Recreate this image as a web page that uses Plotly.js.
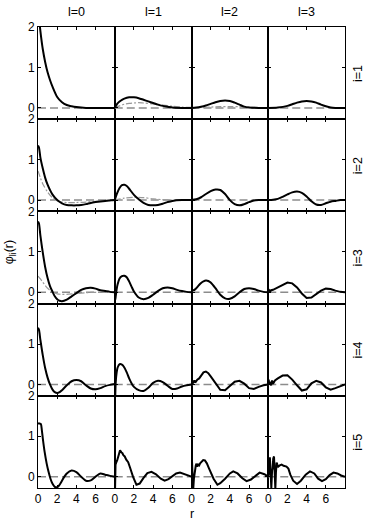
<!DOCTYPE html>
<html>
<head>
<meta charset="utf-8">
<script src="https://cdn.plot.ly/plotly-3.0.1.min.js"></script>
<style>html,body{margin:0;padding:0;background:#fff;}#chart{width:372px;height:522px;}</style>
</head>
<body>
<div id="chart"></div>
<script>
// ---- labels ----
const colLabels = ["l=0", "l=1", "l=2", "l=3"];
const rowLabels = ["i=1", "i=2", "i=3", "i=4", "i=5"];
const xTickVals = [0, 2, 4, 6];
const yTickVals = [0, 1, 2];

// ---- baseline (gray dashed) ----
const base_r = [0, 8];
const base_phi = [0, 0];

// ---- i=1 ----
const r_i1_l0 = [0,0.1,0.25,0.5,0.75,1,1.25,1.5,2,2.5,3,3.5,4,5,6,7,8];
const phi_i1_l0 = [2.6,2.25,1.9,1.45,1.13,0.88,0.69,0.53,0.27,0.14,0.07,0.04,0.02,0,0,0,0];
const r_i1_l1 = [0,0.25,0.5,0.75,1,1.5,2,2.5,3,3.5,4,4.5,5,5.5,6,7,8];
const phi_i1_l1 = [0,0.1,0.16,0.2,0.23,0.26,0.26,0.24,0.2,0.16,0.12,0.08,0.05,0.03,0.01,0,0];
const r_i1_l1_g = [0,0.5,1,1.5,2,2.5,3,4,5,6,7,8];
const phi_i1_l1_g = [0,0.05,0.09,0.11,0.12,0.13,0.12,0.1,0.07,0.04,0.02,0.01];
const r_i1_l2 = [0,0.5,1,1.5,2,2.5,3,3.5,4,4.5,5,5.5,6,7,8];
const phi_i1_l2 = [0,0.01,0.03,0.06,0.1,0.14,0.17,0.18,0.17,0.13,0.08,0.03,0.01,0,0];
const r_i1_l2_g = [0,1,2,3,4,5,6,7,8];
const phi_i1_l2_g = [0,0.01,0.02,0.03,0.03,0.03,0.02,0.01,0];
const r_i1_l3 = [0,1,2,2.5,3,3.5,4,4.5,5,5.5,6,6.5,7,8];
const phi_i1_l3 = [0,0.01,0.05,0.09,0.13,0.16,0.17,0.16,0.13,0.08,0.04,0.01,0,0];

// ---- i=2 ----
const r_i2_l0 = [0,0.1,0.25,0.5,0.75,1,1.25,1.5,2,2.5,3,3.5,4,4.5,5,5.5,6,7,8];
const phi_i2_l0 = [1.35,1.3,1.05,0.78,0.55,0.38,0.25,0.14,0.0,-0.08,-0.12,-0.13,-0.13,-0.12,-0.1,-0.07,-0.05,-0.02,0];
const r_i2_l0_g = [0,0.25,0.5,1,1.5,2,2.5,3,4,5,6,7,8];
const phi_i2_l0_g = [0.72,0.55,0.4,0.2,0.06,-0.02,-0.05,-0.06,-0.06,-0.05,-0.03,-0.02,-0.01];
const r_i2_l1 = [0,0.25,0.5,0.75,1,1.25,1.5,2,2.5,3,3.5,4,4.5,5,5.5,6,7,8];
const phi_i2_l1 = [0,0.17,0.3,0.37,0.38,0.35,0.28,0.13,0.02,-0.07,-0.12,-0.13,-0.12,-0.09,-0.05,-0.02,0,0];
const r_i2_l1_g = [0,1,2,3,4,5,6,8];
const phi_i2_l1_g = [0,0.05,0.07,0.06,0.03,0.01,0,0];
const r_i2_l2 = [0,0.5,1,1.5,2,2.5,3,3.5,4,4.5,5,5.5,6,6.5,7,8];
const phi_i2_l2 = [0,0.02,0.07,0.15,0.22,0.26,0.25,0.15,0.0,-0.1,-0.13,-0.1,-0.05,-0.01,0,0];
const r_i2_l3 = [0,0.5,1,1.5,2,2.5,3,3.5,4,4.5,5,5.5,6,6.5,7,7.5,8];
const phi_i2_l3 = [0,0.01,0.03,0.08,0.14,0.19,0.21,0.18,0.09,-0.03,-0.11,-0.12,-0.08,-0.04,-0.02,0,0];

// ---- i=3 ----
const r_i3_l0 = [0,0.1,0.25,0.5,0.75,1,1.25,1.5,1.75,2,2.25,2.5,3,3.5,4,4.5,5,5.5,6,6.5,7,7.5,8];
const phi_i3_l0 = [1.75,1.7,1.4,0.98,0.62,0.35,0.15,0.02,-0.1,-0.17,-0.21,-0.22,-0.18,-0.1,-0.02,0.06,0.1,0.11,0.09,0.05,0.03,0.01,0];
const r_i3_l0_g = [0,0.25,0.5,0.75,1,1.25,1.5,2,2.5,3,4,5,6,8];
const phi_i3_l0_g = [0.4,0.33,0.25,0.17,0.1,0.05,0.01,-0.04,-0.05,-0.05,-0.03,-0.01,0,0];
const r_i3_l1 = [0,0.05,0.1,0.2,0.3,0.5,0.75,1,1.25,1.5,1.75,2,2.5,3,3.5,4,4.5,5,5.5,6,6.5,7,7.5,8];
const phi_i3_l1 = [-0.05,-0.2,-0.1,0.08,0.2,0.34,0.4,0.41,0.37,0.27,0.14,0.02,-0.13,-0.17,-0.14,-0.06,0.03,0.1,0.12,0.1,0.06,0.03,0.01,0];
const r_i3_l2 = [0,0.1,0.25,0.5,0.75,1,1.25,1.5,1.75,2,2.5,3,3.5,4,4.5,5,5.5,6,6.5,7,7.5,8];
const phi_i3_l2 = [0,0.06,0.05,0.1,0.17,0.23,0.27,0.29,0.28,0.24,0.1,-0.06,-0.15,-0.16,-0.1,0.0,0.08,0.1,0.08,0.04,0.01,0];
const r_i3_l3 = [0,0.1,0.2,0.3,0.5,1,1.5,2,2.5,3,3.5,4,4.5,5,5.5,6,6.5,7,7.5,8];
const phi_i3_l3 = [0,0.05,0.02,0.05,0.06,0.12,0.2,0.24,0.22,0.12,-0.03,-0.14,-0.13,-0.05,0.04,0.09,0.08,0.04,0.01,0];

// ---- i=4 ----
const r_i4_l0 = [0,0.1,0.25,0.5,0.75,1,1.25,1.5,1.75,2,2.25,2.5,3,3.5,4,4.5,5,5.5,6,6.5,7,7.5,8];
const phi_i4_l0 = [1.4,1.35,1.1,0.72,0.4,0.17,0.0,-0.12,-0.19,-0.21,-0.19,-0.14,-0.02,0.08,0.11,0.08,-0.02,-0.1,-0.12,-0.09,-0.04,-0.01,0.01];
const r_i4_l1 = [0,0.05,0.1,0.2,0.3,0.5,0.75,1,1.25,1.5,1.75,2,2.5,3,3.5,4,4.5,5,5.5,6,6.5,7,7.5,8];
const phi_i4_l1 = [-0.7,-0.3,0.05,0.3,0.42,0.5,0.49,0.42,0.3,0.15,0.03,-0.06,-0.14,-0.16,-0.08,0.04,0.09,0.06,-0.03,-0.11,-0.1,-0.05,-0.02,0];
const r_i4_l2 = [0,0.05,0.1,0.2,0.3,0.4,0.6,0.8,1,1.25,1.5,1.75,2,2.5,3,3.5,4,4.5,5,5.5,6,6.5,7,7.5,8];
const phi_i4_l2 = [0,0.12,0.02,0.05,0.1,0.05,0.12,0.15,0.22,0.3,0.32,0.28,0.2,0.03,-0.13,-0.14,-0.04,0.07,0.09,0.02,-0.09,-0.11,-0.06,-0.02,0];
const r_i4_l3 = [0,0.05,0.1,0.2,0.3,0.4,0.5,0.7,1,1.5,2,2.5,3,3.5,4,4.5,5,5.5,6,6.5,7,7.5,8];
const phi_i4_l3 = [0,0.12,0.0,0.03,-0.02,0.1,0.02,0.1,0.15,0.22,0.23,0.12,-0.02,-0.15,-0.12,0.03,0.09,0.05,-0.07,-0.13,-0.09,-0.04,0];

// ---- i=5 ----
const r_i5_l0 = [0,0.1,0.2,0.3,0.4,0.5,0.7,0.9,1.1,1.3,1.5,1.75,2,2.25,2.5,2.75,3,3.5,4,4.5,5,5.5,6,6.5,7,7.5,8];
const phi_i5_l0 = [1.3,1.32,1.31,1.3,1.15,0.95,0.6,0.33,0.12,-0.05,-0.17,-0.25,-0.26,-0.2,-0.1,0.0,0.08,0.15,0.11,0.0,-0.1,-0.09,0.0,0.08,0.05,0.02,0];
const r_i5_l1 = [0,0.03,0.08,0.12,0.17,0.25,0.35,0.45,0.55,0.7,0.8,0.9,1.04,1.2,1.4,1.6,1.9,2.26,2.6,3,3.4,3.83,4.3,4.8,5.2,5.6,6,6.4,6.8,7.2,7.6,8];
const phi_i5_l1 = [0,-0.35,0.3,0.35,0.36,0.4,0.5,0.62,0.65,0.6,0.58,0.53,0.5,0.42,0.36,0.22,0.0,-0.2,-0.17,-0.03,0.09,0.12,0.06,-0.05,-0.1,-0.06,0.02,0.08,0.1,0.07,0.03,0];
const r_i5_l2 = [0,0.05,0.1,0.17,0.25,0.35,0.45,0.52,0.6,0.7,0.8,0.9,1.0,1.1,1.22,1.4,1.6,1.8,2.0,2.3,2.7,3,3.5,4,4.35,4.8,5.3,5.74,6.2,6.7,7.1,7.6,8];
const phi_i5_l2 = [0,0.4,0.1,-0.35,-0.05,0.2,0.28,0.32,0.25,0.3,0.28,0.33,0.35,0.38,0.41,0.4,0.33,0.22,0.12,-0.05,-0.2,-0.16,-0.05,0.08,0.13,0.08,-0.04,-0.11,-0.07,0.03,0.1,0.06,0];
const r_i5_l3 = [0,0.08,0.17,0.25,0.32,0.4,0.45,0.52,0.6,0.67,0.74,0.8,0.87,0.95,1.04,1.2,1.4,1.6,1.9,2.1,2.3,2.6,3,3.4,3.9,4.35,4.8,5.2,5.6,6,6.4,6.8,7.2,7.6,8];
const phi_i5_l3 = [0,0.1,0.48,0.1,-0.28,0.15,0.2,0.45,0.5,0.1,-0.3,0.1,0.35,0.3,0.25,0.28,0.3,0.27,0.25,0.2,0.05,-0.1,-0.18,-0.1,0.05,0.13,0.08,-0.05,-0.11,-0.06,0.04,0.1,0.08,0.03,0];

// ---- panel table built from the arrays ----
const panels = [
  [[r_i1_l0,phi_i1_l0,null,null,true],[r_i1_l1,phi_i1_l1,r_i1_l1_g,phi_i1_l1_g,true],[r_i1_l2,phi_i1_l2,r_i1_l2_g,phi_i1_l2_g,true],[r_i1_l3,phi_i1_l3,null,null,true]],
  [[r_i2_l0,phi_i2_l0,r_i2_l0_g,phi_i2_l0_g,true],[r_i2_l1,phi_i2_l1,r_i2_l1_g,phi_i2_l1_g,true],[r_i2_l2,phi_i2_l2,null,null,true],[r_i2_l3,phi_i2_l3,null,null,true]],
  [[r_i3_l0,phi_i3_l0,r_i3_l0_g,phi_i3_l0_g,true],[r_i3_l1,phi_i3_l1,null,null,true],[r_i3_l2,phi_i3_l2,null,null,true],[r_i3_l3,phi_i3_l3,null,null,false]],
  [[r_i4_l0,phi_i4_l0,null,null,true],[r_i4_l1,phi_i4_l1,null,null,true],[r_i4_l2,phi_i4_l2,null,null,false],[r_i4_l3,phi_i4_l3,null,null,false]],
  [[r_i5_l0,phi_i5_l0,null,null,true],[r_i5_l1,phi_i5_l1,null,null,false],[r_i5_l2,phi_i5_l2,null,null,false],[r_i5_l3,phi_i5_l3,null,null,false]]
];

const TICKFONT = {family: "Liberation Sans, Arial, sans-serif", size: 12, color: "#000"};
const LABELFONT = {family: "Liberation Sans, Arial, sans-serif", size: 12.5, color: "#000"};
const traces = [];
const layout = {
  width: 372, height: 522,
  margin: {l: 38, r: 27, t: 27, b: 34, pad: 0},
  paper_bgcolor: "#fff", plot_bgcolor: "#fff",
  showlegend: false,
  font: TICKFONT,
  annotations: []
};

const nR = 5, nC = 4;
for (let r = 0; r < nR; r++) {
  for (let c = 0; c < nC; c++) {
    const n = r * nC + c + 1;
    const xa = n === 1 ? "x" : "x" + n;
    const ya = n === 1 ? "y" : "y" + n;
    const xk = n === 1 ? "xaxis" : "xaxis" + n;
    const yk = n === 1 ? "yaxis" : "yaxis" + n;
    const p = panels[r][c];
    traces.push({x: base_r, y: base_phi, xaxis: xa, yaxis: ya, mode: "lines",
      line: {color: "#8c8c8c", width: 1.5, dash: "8px,4px"}, hoverinfo: "skip"});
    if (p[2]) {
      traces.push({x: p[2], y: p[3], xaxis: xa, yaxis: ya, mode: "lines",
        line: {color: "#999", width: 1.2, dash: "6px,2px,2px,2px", shape: "spline", smoothing: 0.8}, hoverinfo: "skip"});
    }
    traces.push({x: p[0], y: p[1], xaxis: xa, yaxis: ya, mode: "lines",
      line: {color: "#000", width: 2, shape: p[4] ? "spline" : "linear", smoothing: 0.8}});
    layout[xk] = {
      domain: [c / nC, (c + 1) / nC], range: [0, 8], anchor: ya,
      tickmode: "array", tickvals: xTickVals, ticktext: xTickVals.map(String),
      ticks: "inside", ticklen: 3, tickwidth: 1, tickcolor: "#000",
      showline: true, linecolor: "#000", linewidth: 1, mirror: "ticks",
      showgrid: false, zeroline: false, showticklabels: r === nR - 1,
      tickfont: TICKFONT, fixedrange: true
    };
    layout[yk] = {
      domain: [1 - (r + 1) / nR, 1 - r / nR], range: [-0.28, 2], anchor: xa,
      tickmode: "array", tickvals: yTickVals, ticktext: yTickVals.map(String),
      ticks: "inside", ticklen: 3, tickwidth: 1, tickcolor: "#000",
      showline: true, linecolor: "#000", linewidth: 1, mirror: "ticks",
      showgrid: false, zeroline: false, showticklabels: c === 0,
      tickfont: TICKFONT, fixedrange: true
    };
  }
}

colLabels.forEach((t, c) => layout.annotations.push({
  text: t, xref: "paper", yref: "paper", x: (c + 0.5) / nC, y: 1.032,
  xanchor: "center", yanchor: "middle", showarrow: false, font: LABELFONT}));
rowLabels.forEach((t, r) => layout.annotations.push({
  text: t, xref: "paper", yref: "paper", x: 1.042, y: 1 - (r + 0.5) / nR,
  xanchor: "center", yanchor: "middle", textangle: -90, showarrow: false, font: LABELFONT}));
layout.annotations.push({text: "r", xref: "paper", yref: "paper", x: 0.5, y: -0.056,
  xanchor: "center", yanchor: "middle", showarrow: false, font: LABELFONT});
layout.annotations.push({text: "φ<sub>li</sub>(r)", xref: "paper", yref: "paper", x: -0.09, y: 0.512,
  xanchor: "center", yanchor: "middle", textangle: -90, showarrow: false, font: LABELFONT});

Plotly.newPlot("chart", traces, layout, {staticPlot: true, displayModeBar: false});
</script>
</body>
</html>
